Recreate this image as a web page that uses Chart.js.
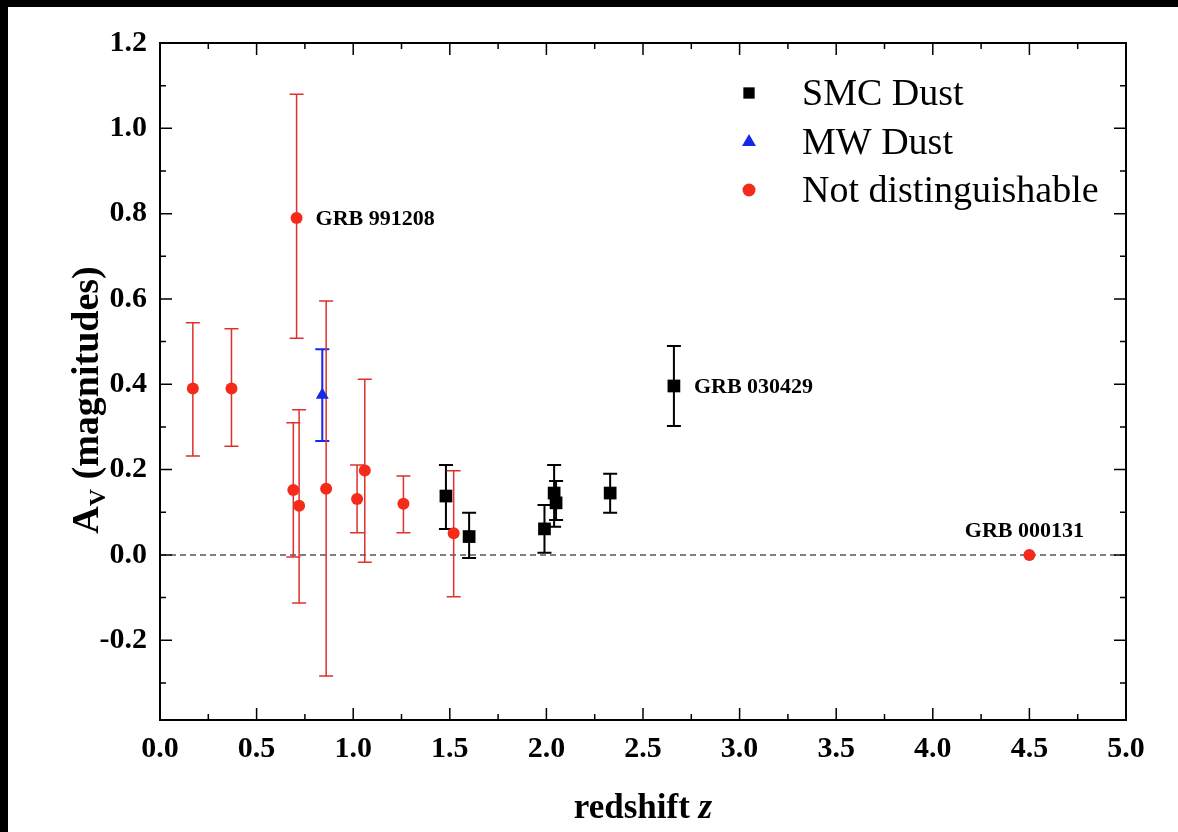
<!DOCTYPE html>
<html>
<head>
<meta charset="utf-8">
<script src="https://cdn.jsdelivr.net/npm/chart.js@4.4.0/dist/chart.umd.min.js"></script>
<style>
  html, body { margin: 0; padding: 0; background: #000; }
  #wrap { position: absolute; left: 8px; top: 7px; width: 1170px; height: 825px; background: #fff; }
</style>
</head>
<body>
<div id="wrap"><canvas id="avChart"></canvas></div>
<script>
// 数据：红移 z 与 A_V
// SMC Dust
const smcZ  = [1.48, 1.60, 1.99, 2.04, 2.05, 2.33, 2.66];
const smcAv = [0.138, 0.043, 0.061, 0.145, 0.122, 0.145, 0.396];
const smcHi = [0.211, 0.099, 0.117, 0.211, 0.173, 0.190, 0.490];
const smcLo = [0.061, -0.007, 0.005, 0.066, 0.082, 0.099, 0.302];

// MW Dust
const mwZ  = [0.84];
const mwAv = [0.375];
const mwHi = [0.482];
const mwLo = [0.267];

// Not distinguishable
const ndZ  = [0.17, 0.37, 0.69, 0.707, 0.72, 0.86, 1.02, 1.06, 1.26, 1.52, 4.50];
const ndAv = [0.390, 0.390, 0.152, 0.790, 0.115, 0.155, 0.131, 0.198, 0.120, 0.051, 0.0];
const ndHi = [0.544, 0.530, 0.310, 1.080, 0.340, 0.595, 0.211, 0.412, 0.185, 0.197, null];
const ndLo = [0.232, 0.255, -0.005, 0.508, -0.113, -0.284, 0.052, -0.017, 0.052, -0.098, null];

// 标注
const grbNames = ['GRB 991208', 'GRB 030429', 'GRB 000131'];

// 刻度
const xTicks = [0, 0.5, 1, 1.5, 2, 2.5, 3, 3.5, 4, 4.5, 5];
const xMinor = [0.25, 0.75, 1.25, 1.75, 2.25, 2.75, 3.25, 3.75, 4.25, 4.75];
const yTicks = [-0.2, 0, 0.2, 0.4, 0.6, 0.8, 1.0, 1.2];
const yMinor = [-0.3, -0.1, 0.1, 0.3, 0.5, 0.7, 0.9, 1.1];

const serif = "'Liberation Serif', 'DejaVu Serif', serif";

function toPoints(zs, avs, los, his) {
  return zs.map((z, i) => ({ x: z, y: avs[i], lo: los[i], hi: his[i] }));
}

// 误差棒、零线、边框、图例、标注
const plotDecor = {
  id: 'plotDecor',
  beforeDatasetsDraw(chart) {
    const { ctx, chartArea: a, scales: { x, y } } = chart;
    ctx.save();
    // 零线
    const y0 = y.getPixelForValue(0);
    ctx.strokeStyle = '#555';
    ctx.lineWidth = 1.5;
    ctx.setLineDash([6, 4]);
    ctx.beginPath();
    ctx.moveTo(a.left, y0);
    ctx.lineTo(a.right, y0);
    ctx.stroke();
    ctx.setLineDash([]);

    // 误差棒
    chart.data.datasets.forEach(ds => {
      ctx.strokeStyle = ds.errColor;
      ctx.lineWidth = ds.errWidth;
      ds.data.forEach(p => {
        if (p.lo == null) return;
        const px = x.getPixelForValue(p.x);
        const yl = y.getPixelForValue(p.lo);
        const yh = y.getPixelForValue(p.hi);
        const c = ds.capHalf;
        ctx.beginPath();
        ctx.moveTo(px, yl); ctx.lineTo(px, yh);
        ctx.moveTo(px - c, yl); ctx.lineTo(px + c, yl);
        ctx.moveTo(px - c, yh); ctx.lineTo(px + c, yh);
        ctx.stroke();
      });
    });
    ctx.restore();
  },
  afterDraw(chart) {
    const { ctx, chartArea: a, scales: { x, y } } = chart;
    ctx.save();

    // 边框
    ctx.strokeStyle = '#000';
    ctx.lineWidth = 2;
    ctx.strokeRect(a.left, a.top, a.right - a.left, a.bottom - a.top);

    // 内向刻度线（四边）
    ctx.lineWidth = 1.5;
    ctx.beginPath();
    const tickX = (v, len) => {
      const px = x.getPixelForValue(v);
      ctx.moveTo(px, a.bottom); ctx.lineTo(px, a.bottom - len);
      ctx.moveTo(px, a.top); ctx.lineTo(px, a.top + len);
    };
    const tickY = (v, len) => {
      const py = y.getPixelForValue(v);
      ctx.moveTo(a.left, py); ctx.lineTo(a.left + len, py);
      ctx.moveTo(a.right, py); ctx.lineTo(a.right - len, py);
    };
    xTicks.forEach(v => tickX(v, 12));
    xMinor.forEach(v => tickX(v, 6));
    yTicks.forEach(v => tickY(v, 12));
    yMinor.forEach(v => tickY(v, 6));
    ctx.stroke();

    // 图例
    const legendX = 741, textX = 794, rows = [86, 135, 183];
    ctx.font = '38px ' + serif;
    ctx.textBaseline = 'middle';
    ctx.textAlign = 'left';
    chart.data.datasets.forEach((ds, r) => {
      ctx.fillStyle = ds.backgroundColor;
      ctx.strokeStyle = ds.backgroundColor;
      Chart.helpers.drawPoint(ctx, {
        pointStyle: ds.pointStyle, radius: ds.legendRadius, rotation: 0, borderWidth: 0
      }, legendX, rows[r]);
      ctx.fillStyle = '#000';
      ctx.fillText(ds.label, textX, rows[r] + 2);
    });

    // GRB 标注
    ctx.font = 'bold 22px ' + serif;
    ctx.fillStyle = '#000';
    const lab = (name, z, av, dx, dy, align) => {
      ctx.textAlign = align;
      ctx.fillText(name, x.getPixelForValue(z) + dx, y.getPixelForValue(av) + dy);
    };
    lab(grbNames[0], ndZ[3], ndAv[3], 19, 1, 'left');
    lab(grbNames[1], smcZ[6], smcAv[6], 20, 1, 'left');
    lab(grbNames[2], ndZ[10], ndAv[10], -5, -24, 'center');

    // x 轴标题
    ctx.textBaseline = 'alphabetic';
    const cx = (a.left + a.right) / 2;
    ctx.font = 'bold 35px ' + serif;
    const w1 = ctx.measureText('redshift ').width;
    ctx.font = 'italic bold 35px ' + serif;
    const w2 = ctx.measureText('z').width;
    const sx = cx - (w1 + w2) / 2;
    ctx.textAlign = 'left';
    ctx.font = 'bold 35px ' + serif;
    ctx.fillText('redshift ', sx, 811);
    ctx.font = 'italic bold 35px ' + serif;
    ctx.fillText('z', sx + w1, 811);

    // y 轴标题（A_V 下标）
    ctx.translate(90, 393);
    ctx.rotate(-Math.PI / 2);
    ctx.font = 'bold 38px ' + serif;
    const wA = ctx.measureText('A').width;
    const wRest = ctx.measureText(' (magnitudes)').width;
    ctx.font = 'bold 24px ' + serif;
    const wV = ctx.measureText('V').width;
    const tx = -(wA + wV + wRest) / 2;
    ctx.font = 'bold 38px ' + serif;
    ctx.fillText('A', tx, 0);
    ctx.font = 'bold 24px ' + serif;
    ctx.fillText('V', tx + wA, 7);
    ctx.font = 'bold 38px ' + serif;
    ctx.fillText(' (magnitudes)', tx + wA + wV, 0);

    ctx.restore();
  }
};

const ctx = document.getElementById('avChart').getContext('2d');
const chart = new Chart(ctx, {
  type: 'scatter',
  data: {
    datasets: [
      {
        label: 'SMC Dust',
        data: toPoints(smcZ, smcAv, smcLo, smcHi),
        pointStyle: 'rect',
        pointRadius: 9,
        legendRadius: 8,
        backgroundColor: '#000',
        borderColor: '#000',
        borderWidth: 0,
        errColor: '#000',
        errWidth: 2,
        capHalf: 7
      },
      {
        label: 'MW Dust',
        data: toPoints(mwZ, mwAv, mwLo, mwHi),
        pointStyle: 'triangle',
        pointRadius: 7.5,
        legendRadius: 8,
        backgroundColor: '#1428e6',
        borderColor: '#1428e6',
        borderWidth: 0,
        errColor: '#1428e6',
        errWidth: 2,
        capHalf: 7
      },
      {
        label: 'Not distinguishable',
        data: toPoints(ndZ, ndAv, ndLo, ndHi),
        pointStyle: 'circle',
        pointRadius: 6,
        legendRadius: 6.5,
        backgroundColor: '#f42a1a',
        borderColor: '#f42a1a',
        borderWidth: 0,
        errColor: '#e0302c',
        errWidth: 1.5,
        capHalf: 7
      }
    ]
  },
  options: {
    responsive: true,
    maintainAspectRatio: false,
    animation: false,
    layout: { padding: { left: 0, top: 36, right: 52, bottom: 0 } },
    plugins: {
      legend: { display: false },
      tooltip: { enabled: false }
    },
    scales: {
      x: {
        type: 'linear',
        min: 0,
        max: 5,
        grid: { display: false, drawTicks: false },
        border: { display: false },
        afterBuildTicks: s => { s.ticks = xTicks.map(v => ({ value: v })); },
        afterFit: s => { s.height = 112; },
        ticks: {
          padding: 11,
          color: '#000',
          font: { family: serif, size: 30, weight: 'bold' },
          callback: v => Number(v).toFixed(1)
        }
      },
      y: {
        type: 'linear',
        min: -0.387,
        max: 1.2,
        grid: { display: false, drawTicks: false },
        border: { display: false },
        afterBuildTicks: s => { s.ticks = yTicks.map(v => ({ value: v })); },
        afterFit: s => { s.width = 152; },
        ticks: {
          padding: 13,
          color: '#000',
          font: { family: serif, size: 30, weight: 'bold' },
          callback: v => Number(v).toFixed(1)
        }
      }
    }
  },
  plugins: [plotDecor]
});
</script>
</body>
</html>
